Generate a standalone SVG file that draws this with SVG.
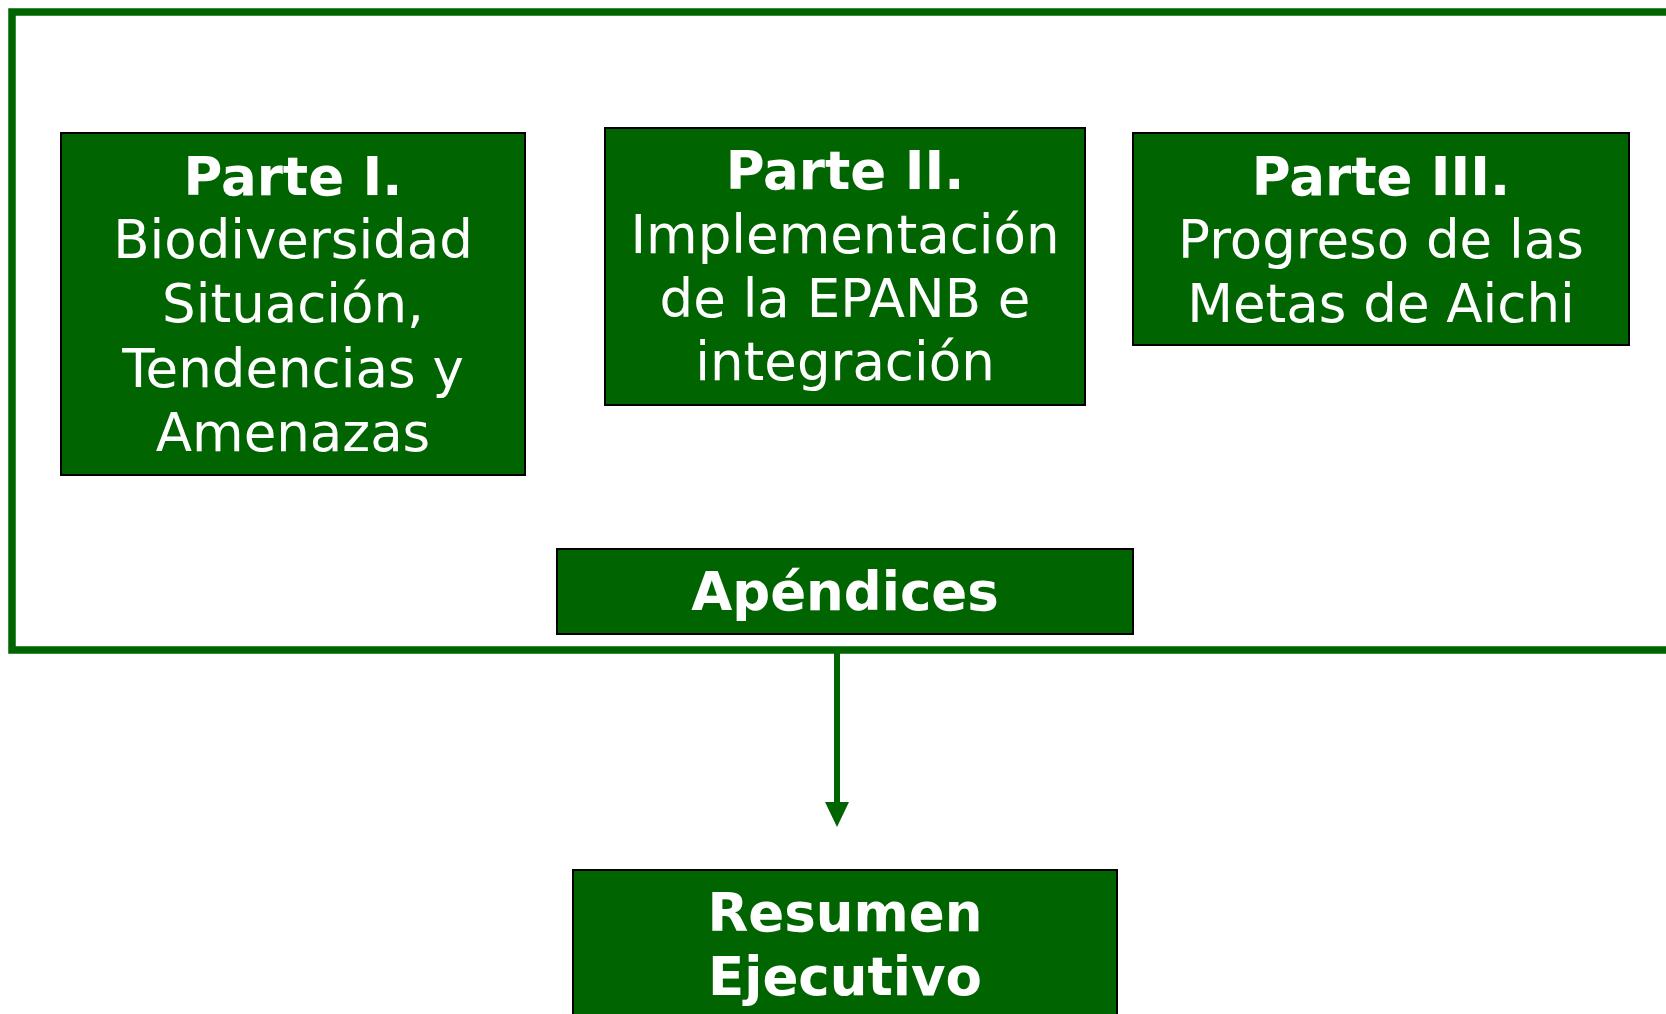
<svg xmlns="http://www.w3.org/2000/svg" width="1666" height="1014" viewBox="0 0 1666 1014">
<style>
.frame{fill:none;stroke:#006400;stroke-width:7.5}
.box{fill:#006400;stroke:#000;stroke-width:2}
.t{font-family:"DejaVu Sans","Verdana",sans-serif;font-size:53px;fill:#fff;text-anchor:middle}
.b{font-weight:bold}
.conn{stroke:#006400;stroke-width:6;fill:none}
</style>
<defs>
<marker id="ah" markerUnits="userSpaceOnUse" markerWidth="25" markerHeight="24" viewBox="0 0 25 24" refX="3" refY="12" orient="auto">
<path d="M0,0 L25,12 L0,24 Z" fill="#006400"/>
</marker>
</defs>
<rect class="frame" x="12" y="12" width="1720" height="638"/>
<g id="parte1">
<rect class="box" x="61" y="133" width="464" height="342"/>
<text class="t"><tspan class="b" x="293" y="195">Parte I.</tspan><tspan x="293" y="258">Biodiversidad</tspan><tspan x="293" y="322">Situación,</tspan><tspan x="293" y="387">Tendencias y</tspan><tspan x="293" y="451">Amenazas</tspan></text>
</g>
<g id="parte2">
<rect class="box" x="605" y="128" width="480" height="277"/>
<text class="t"><tspan class="b" x="845" y="189">Parte II.</tspan><tspan x="845" y="253">Implementación</tspan><tspan x="845" y="317">de la EPANB e</tspan><tspan x="845" y="380">integración</tspan></text>
</g>
<g id="parte3">
<rect class="box" x="1133" y="133" width="496" height="212"/>
<text class="t"><tspan class="b" x="1381" y="195">Parte III.</tspan><tspan x="1381" y="258">Progreso de las</tspan><tspan x="1381" y="322">Metas de Aichi</tspan></text>
</g>
<g id="apendices">
<rect class="box" x="557" y="549" width="576" height="85"/>
<text class="t b" x="845" y="610">Apéndices</text>
</g>
<g id="resumen">
<rect class="box" x="573" y="870" width="544" height="160"/>
<text class="t b"><tspan x="845" y="931">Resumen</tspan><tspan x="845" y="995">Ejecutivo</tspan></text>
</g>
<g id="connectors">
<line class="conn" x1="837" y1="653" x2="837" y2="805" marker-end="url(#ah)"/>
</g>
</svg>
